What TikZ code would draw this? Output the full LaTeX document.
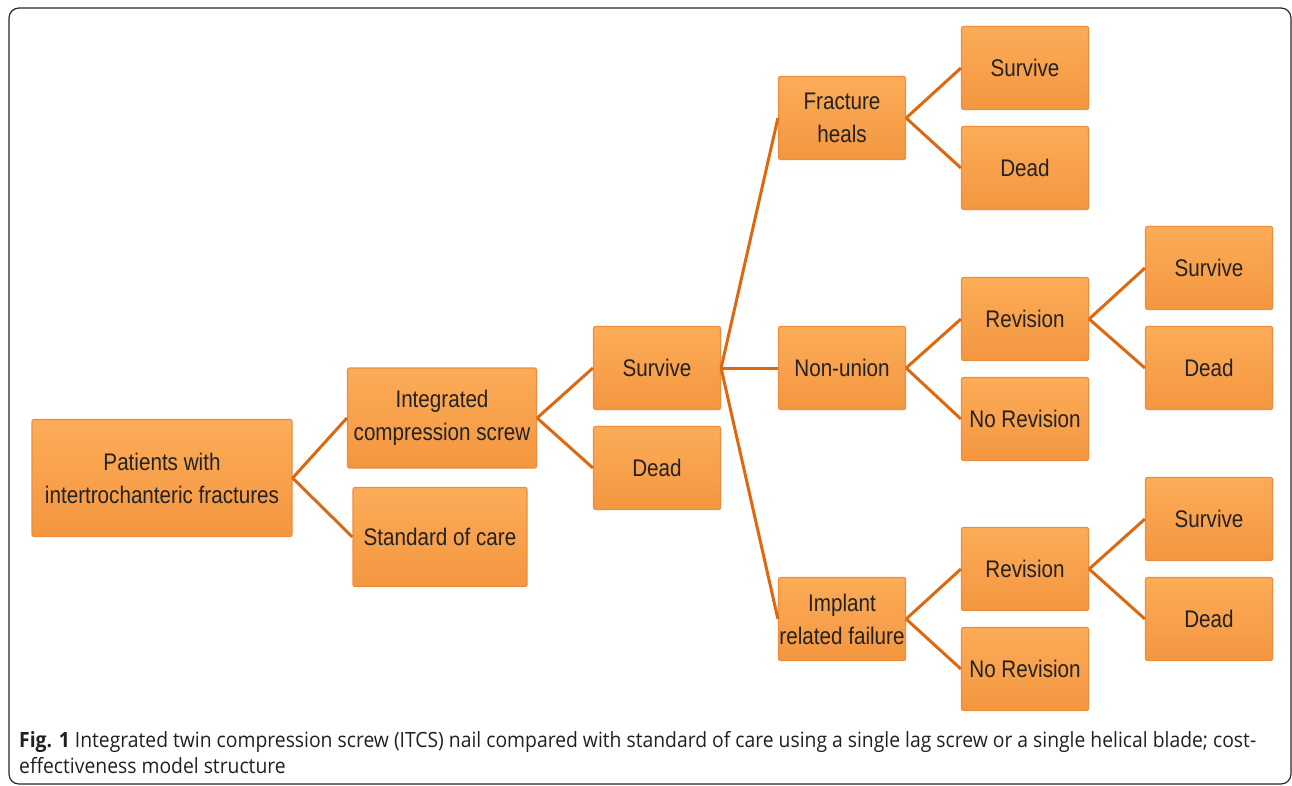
\documentclass[tikz,border=0pt]{standalone}
\usepackage{fontspec}
\setmainfont{Liberation Sans}[FakeStretch=0.86]
\newfontfamily\capfont{Open Sans}[FakeStretch=0.92]
\definecolor{boxfill}{RGB}{250,164,78}
\definecolor{boxtop}{RGB}{252,172,88}
\definecolor{boxbot}{RGB}{244,150,64}
\definecolor{boxedge}{RGB}{238,142,60}
\definecolor{branch}{RGB}{222,104,16}
\definecolor{boxtext}{RGB}{34,34,34}
\tikzset{
  treebox/.style={draw=boxedge, line width=1.2pt, top color=boxtop, bottom color=boxbot,
    rounded corners=2pt, minimum width=127pt, minimum height=83pt, inner sep=0pt,
    align=center, text=boxtext, font=\fontsize{24}{33}\selectfont},
  branchline/.style={draw=branch, line width=3pt}
}
\begin{document}
\begin{tikzpicture}[x=1pt,y=1pt,yscale=-1]
\useasboundingbox (0,0) rectangle (1292,785);

%Shape: Rounded Rect (frame)
\draw [color={rgb, 255:red, 40; green, 40; blue, 40 }, line width=1.2pt, rounded corners=10pt] (9,8) rectangle (1291,784);

%Shape: Boxes, first levels
\node [treebox, minimum width=260pt, minimum height=117pt] (patients) at (162,478) {Patients with\\intertrochanteric fractures};
\node [treebox, minimum width=189pt, minimum height=100pt] (itcs) at (442,418) {Integrated\\compression screw};
\node [treebox, minimum width=174pt, minimum height=99pt] (soc) at (440,537) {Standard of care};
\node [treebox] (survive) at (657,368) {Survive};
\node [treebox] (dead) at (657,468) {Dead};

%Shape: Boxes, outcomes
\node [treebox] (heals) at (842,118) {Fracture\\heals};
\node [treebox] (nonunion) at (842,368) {Non-union};
\node [treebox] (implant) at (842,619) {Implant\\related failure};

\node [treebox] (healsurv) at (1025,68) {Survive};
\node [treebox] (healdead) at (1025,168) {Dead};
\node [treebox] (nurev) at (1025,319) {Revision};
\node [treebox] (nunorev) at (1025,419) {No Revision};
\node [treebox] (ifrev) at (1025,569) {Revision};
\node [treebox] (ifnorev) at (1025,669) {No Revision};

\node [treebox] (nurevsurv) at (1209,268) {Survive};
\node [treebox] (nurevdead) at (1209,368) {Dead};
\node [treebox] (ifrevsurv) at (1209,519) {Survive};
\node [treebox] (ifrevdead) at (1209,619) {Dead};

%Straight Lines
\foreach \a/\b in {patients/itcs, patients/soc, itcs/survive, itcs/dead,
  survive/heals, survive/nonunion, survive/implant,
  heals/healsurv, heals/healdead, nonunion/nurev, nonunion/nunorev,
  implant/ifrev, implant/ifnorev, nurev/nurevsurv, nurev/nurevdead,
  ifrev/ifrevsurv, ifrev/ifrevdead}
  \draw [branchline] (\a.east) -- (\b.west);

% Text Node
\node [anchor=west, inner sep=0pt, align=left, text={rgb,255:red,35;green,31;blue,32},
  font=\capfont\fontsize{21}{26}\selectfont] (caption) at (19,753)
  {\textbf{Fig. 1} Integrated twin compression screw (ITCS) nail compared with standard of care using a single lag screw or a single helical blade; cost-\\effectiveness model structure};

\end{tikzpicture}
\end{document}
